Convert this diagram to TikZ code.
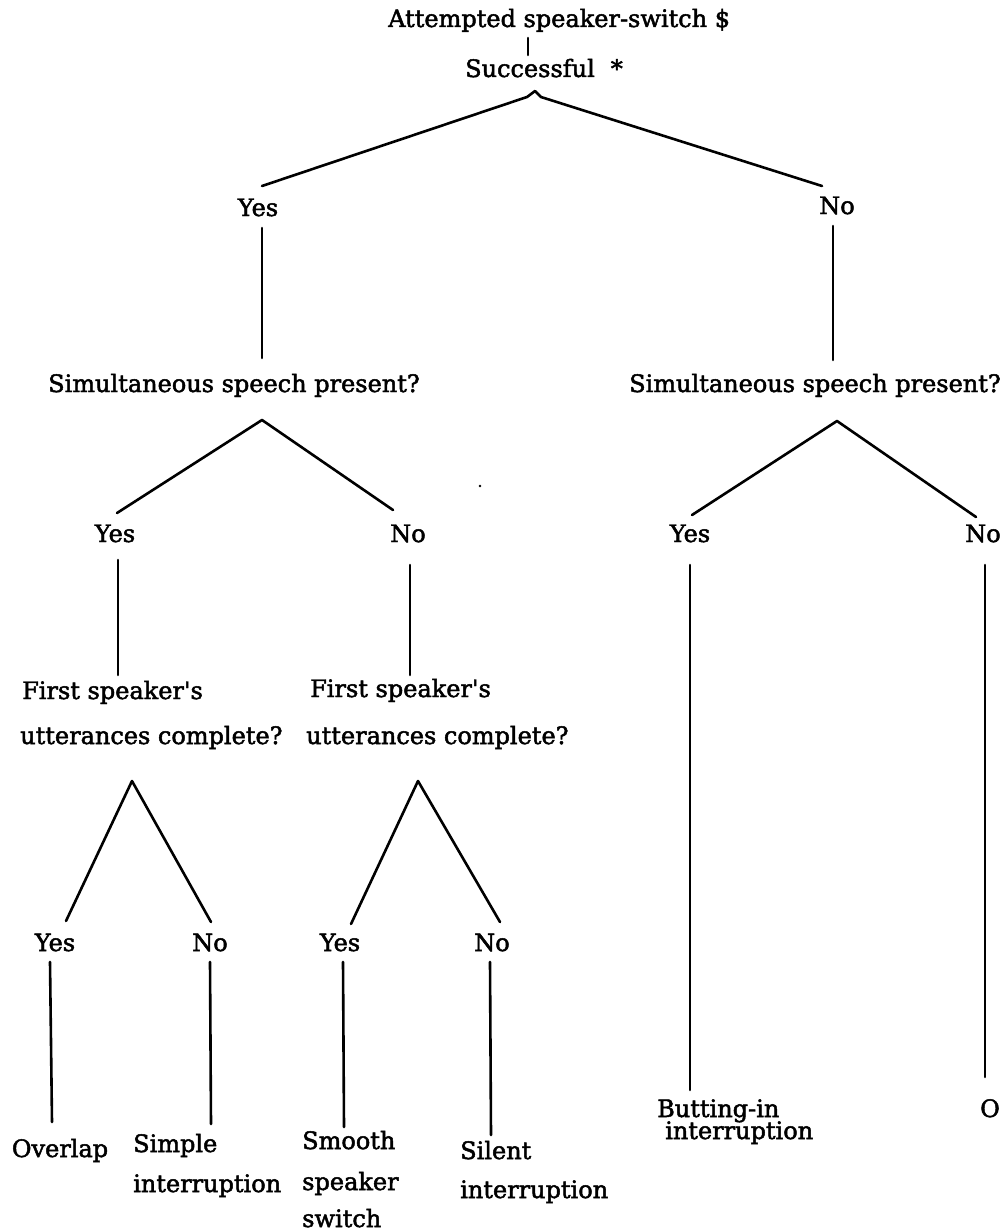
\documentclass[tikz,border=0pt]{standalone}
\usepackage{fontspec}
% plain family: no TeX ligature mapping, so ' stays a straight quote
\newfontfamily\treefont{DejaVu Serif}[FakeBold=2]
\begin{document}
\begin{tikzpicture}[x=1pt,y=-1pt,
  lbl/.style={inner sep=0pt, anchor=base west, font=\treefont\fontsize{24}{28}\selectfont},
  ans/.style={inner sep=0pt, anchor=base, font=\treefont\fontsize{24}{28}\selectfont},
  branch/.style={line width=2.6pt, line cap=round, line join=round}]
\useasboundingbox (0,0) rectangle (1005,1231);

% ---- root ----
\node[lbl] (root) at (388,27) {Attempted speaker-switch \$};
\node[lbl] (succ) at (465,77) {Successful\hspace{16pt}*};
\coordinate (r0) at (528,38);
\coordinate (r1) at (528,55);
\draw[branch] (r0) -- (r1);

\coordinate (ap0) at (535,91);
\coordinate (ap0l) at (527,97);
\coordinate (ap0r) at (541,97);
\coordinate (y0) at (262,186);
\coordinate (n0) at (822,186);
\draw[branch] (y0) -- (ap0l) -- (ap0) -- (ap0r) -- (n0);

\node[ans] (yesA) at (258,216) {Yes};
\node[ans] (noA) at (837,214) {No};

\coordinate (ya0) at (262,228); \coordinate (ya1) at (262,358);
\coordinate (na0) at (833,226); \coordinate (na1) at (833,360);
\draw[branch] (ya0) -- (ya1);
\draw[branch] (na0) -- (na1);

\node[lbl] (simL) at (48,392) {Simultaneous speech present?};
\node[lbl] (simR) at (629,392) {Simultaneous speech present?};

% ---- second level ----
\coordinate (apL) at (262,420);
\coordinate (apLy) at (117,513); \coordinate (apLn) at (393,510);
\draw[branch] (apLy) -- (apL) -- (apLn);
\coordinate (apR) at (837,421);
\coordinate (apRy) at (692,515); \coordinate (apRn) at (976,517);
\draw[branch] (apRy) -- (apR) -- (apRn);

\fill (480,486) circle (1.4pt);

\node[ans] (yesB) at (115,542) {Yes};
\node[ans] (noB) at (408,542) {No};
\node[ans] (yesC) at (690,542) {Yes};
\node[ans] (noC) at (983,542) {No};

\coordinate (yb0) at (118,560); \coordinate (yb1) at (118,675);
\coordinate (nb0) at (410,565); \coordinate (nb1) at (410,675);
\coordinate (yc0) at (690,565); \coordinate (yc1) at (690,1090);
\coordinate (nc0) at (985,565); \coordinate (nc1) at (985,1077);
\draw[branch] (yb0) -- (yb1);
\draw[branch] (nb0) -- (nb1);
\draw[branch] (yc0) -- (yc1);
\draw[branch] (nc0) -- (nc1);

\node[lbl] (fsL) at (22,699) {First speaker's};
\node[lbl] (ucL) at (20,744) {utterances complete?};
\node[lbl] (fsR) at (310,697) {First speaker's};
\node[lbl] (ucR) at (306,744) {utterances complete?};

% ---- third level ----
\coordinate (apA) at (132,781);
\coordinate (apAy) at (66,921); \coordinate (apAn) at (211,922);
\draw[branch] (apAy) -- (apA) -- (apAn);
\coordinate (apB) at (418,781);
\coordinate (apBy) at (351,924); \coordinate (apBn) at (500,922);
\draw[branch] (apBy) -- (apB) -- (apBn);

\node[ans] (yesD) at (55,951) {Yes};
\node[ans] (noD) at (210,951) {No};
\node[ans] (yesE) at (340,951) {Yes};
\node[ans] (noE) at (492,951) {No};

\coordinate (yd0) at (50,962); \coordinate (yd1) at (52,1122);
\coordinate (nd0) at (210,962); \coordinate (nd1) at (211,1124);
\coordinate (ye0) at (343,962); \coordinate (ye1) at (344,1127);
\coordinate (ne0) at (490,962); \coordinate (ne1) at (491,1135);
\draw[branch] (yd0) -- (yd1);
\draw[branch] (nd0) -- (nd1);
\draw[branch] (ye0) -- (ye1);
\draw[branch] (ne0) -- (ne1);

% ---- outcomes ----
\node[ans] (overlap) at (60,1157) {Overlap};
\node[lbl] (simp1) at (133,1152) {Simple};
\node[lbl] (simp2) at (133,1192) {interruption};
\node[lbl] (smo1) at (302,1149) {Smooth};
\node[lbl] (smo2) at (302,1190) {speaker};
\node[lbl] (smo3) at (302,1227) {switch};
\node[lbl] (sil1) at (460,1159) {Silent};
\node[lbl] (sil2) at (460,1198) {interruption};
\node[lbl] (but1) at (657,1117) {Butting-in};
\node[lbl] (but2) at (665,1139) {interruption};
\node[ans] (oo) at (990,1117) {O};
\end{tikzpicture}
\end{document}
